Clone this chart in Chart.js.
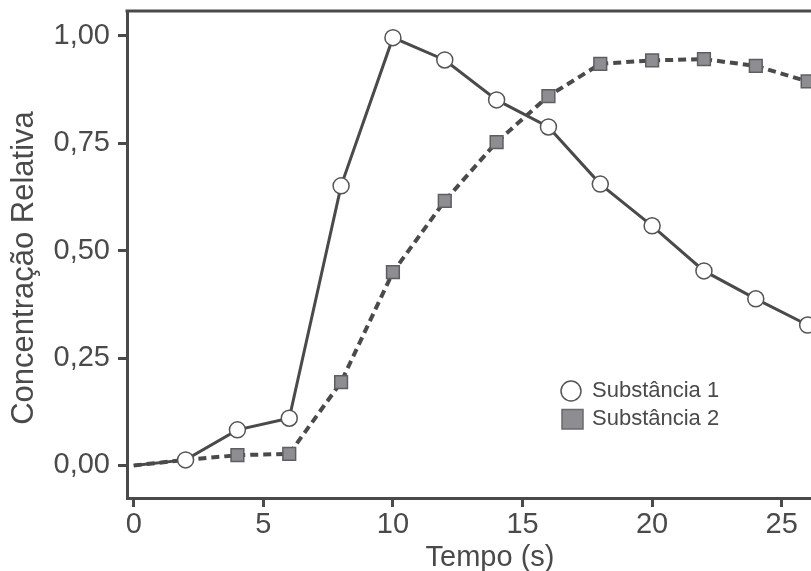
<!DOCTYPE html>
<html>
<head>
<meta charset="utf-8">
<script src="https://cdn.jsdelivr.net/npm/chart.js@4"></script>
<style>
  html, body { margin: 0; padding: 0; background: #fff; overflow: hidden; }
  #wrap { width: 811px; height: 571px; position: relative; }
  canvas { display: block; }
</style>
</head>
<body>
<div id="wrap"><canvas id="chart" width="811" height="571"></canvas></div>
<script>
// data
const tempos = [0, 2, 4, 6, 8, 10, 12, 14, 16, 18, 20, 22, 24, 26];
const substancia1 = [0, 0.013, 0.083, 0.11, 0.651, 0.996, 0.944, 0.851, 0.788, 0.655, 0.558, 0.453, 0.388, 0.327];
const substancia2 = [0, 0.013, 0.024, 0.027, 0.194, 0.45, 0.616, 0.753, 0.86, 0.935, 0.943, 0.946, 0.93, 0.894];
const seriesNames = ['Substância 1', 'Substância 2'];
const xTicks = [0, 5, 10, 15, 20, 25];
const yTicks = [0, 0.25, 0.5, 0.75, 1];
const yTickLabels = ['0,00', '0,25', '0,50', '0,75', '1,00'];
const xTitle = 'Tempo (s)';
const yTitle = 'Concentração Relativa';

const INK = '#4a4a4a';
const FONT = '"Liberation Sans", Arial, sans-serif';

function toPoints(ys) {
  return tempos.map((t, i) => ({ x: t, y: ys[i] }));
}

// no automatic label padding, the plot box is set by hand
function noPadding(scale) {
  scale.paddingTop = 0;
  scale.paddingBottom = 0;
  scale.paddingLeft = 0;
  scale.paddingRight = 0;
}

// extra drawing: top frame line, axis titles, legend inside the plot
const decorPlugin = {
  id: 'decor',
  afterDraw(chart) {
    const ctx = chart.ctx;
    const area = chart.chartArea;
    ctx.save();
    ctx.strokeStyle = INK;
    ctx.lineWidth = 3;
    ctx.beginPath();
    ctx.moveTo(area.left - 1.5, area.top);
    ctx.lineTo(area.right, area.top);
    ctx.stroke();

    ctx.fillStyle = INK;
    ctx.font = '29px ' + FONT;
    ctx.textAlign = 'center';
    ctx.textBaseline = 'alphabetic';
    ctx.fillText(xTitle, 490, 566);

    ctx.save();
    ctx.translate(33, 268);
    ctx.rotate(-Math.PI / 2);
    ctx.font = '31px ' + FONT;
    ctx.fillText(yTitle, 0, 0);
    ctx.restore();

    // legend
    ctx.font = '22px ' + FONT;
    ctx.textAlign = 'left';
    ctx.textBaseline = 'middle';
    ctx.lineWidth = 1.5;
    ctx.fillStyle = '#ffffff';
    ctx.strokeStyle = '#555555';
    ctx.beginPath();
    ctx.arc(571, 391, 10, 0, Math.PI * 2);
    ctx.fill();
    ctx.stroke();
    ctx.fillStyle = '#8e8e92';
    ctx.strokeStyle = '#6a6a6e';
    ctx.fillRect(562, 409.5, 21, 19.5);
    ctx.strokeRect(562, 409.5, 21, 19.5);
    ctx.fillStyle = INK;
    ctx.fillText(seriesNames[0], 592, 391);
    ctx.fillText(seriesNames[1], 592, 419);
    ctx.restore();
  }
};

new Chart(document.getElementById('chart'), {
  type: 'line',
  data: {
    datasets: [
      {
        label: seriesNames[0],
        data: toPoints(substancia1),
        borderColor: INK,
        borderWidth: 3,
        pointStyle: 'circle',
        pointRadius: tempos.map(t => t === 0 ? 0 : 8),
        pointBackgroundColor: '#ffffff',
        pointBorderColor: '#555555',
        pointBorderWidth: 1.5,
        tension: 0
      },
      {
        label: seriesNames[1],
        data: toPoints(substancia2),
        borderColor: INK,
        borderWidth: 4,
        borderDash: [8, 5],
        pointStyle: 'rect',
        pointRadius: tempos.map(t => t <= 2 ? 0 : 9),
        pointBackgroundColor: '#8e8e92',
        pointBorderColor: '#5e5e62',
        pointBorderWidth: 1.5,
        tension: 0
      }
    ]
  },
  options: {
    responsive: false,
    animation: false,
    clip: false,
    layout: { autoPadding: false, padding: { top: 11, right: 0, left: 0, bottom: 0 } },
    plugins: {
      legend: { display: false },
      tooltip: { enabled: false }
    },
    scales: {
      x: {
        type: 'linear',
        min: -0.26,
        max: 26.13,
        afterBuildTicks: scale => { scale.ticks = xTicks.map(v => ({ value: v })); },
        afterFit: scale => { scale.height = 73; noPadding(scale); },
        border: { display: true, color: INK, width: 3 },
        grid: { drawOnChartArea: false, drawTicks: true, tickLength: 9, tickColor: INK, lineWidth: 3 },
        ticks: {
          color: INK,
          font: { family: FONT, size: 29 },
          padding: 1,
          maxRotation: 0
        }
      },
      y: {
        min: -0.0757,
        max: 1.058,
        afterBuildTicks: scale => { scale.ticks = yTicks.map(v => ({ value: v })); },
        afterFit: scale => { scale.width = 127; noPadding(scale); },
        border: { display: true, color: INK, width: 3 },
        grid: { drawOnChartArea: false, drawTicks: true, tickLength: 9, tickColor: INK, lineWidth: 3 },
        ticks: {
          color: INK,
          font: { family: FONT, size: 29 },
          padding: 8,
          callback: (v) => yTickLabels[yTicks.indexOf(v)]
        }
      }
    }
  },
  plugins: [decorPlugin]
});
</script>
</body>
</html>
